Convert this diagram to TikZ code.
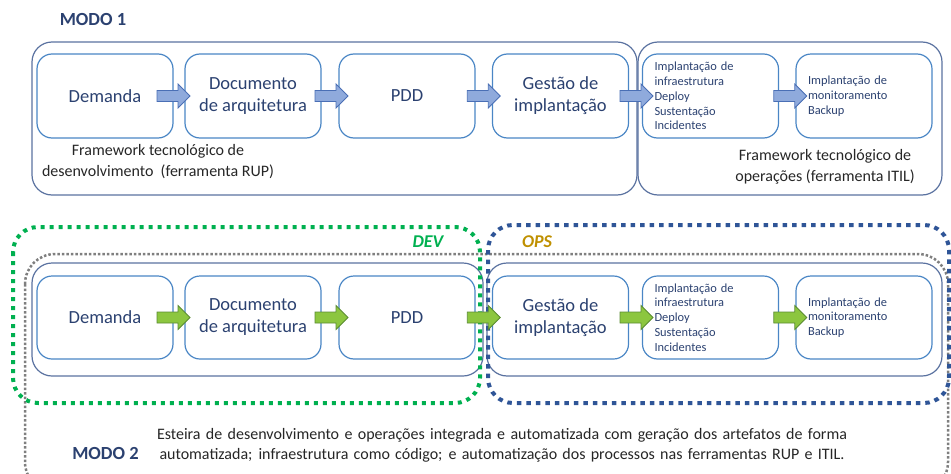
\documentclass[tikz,border=0pt]{standalone}
\usepackage{fontspec}
\setmainfont{Carlito}
\usetikzlibrary{calc}
\definecolor{navy}{HTML}{2B4170}
\definecolor{boxblue}{HTML}{4A86C5}
\definecolor{contblue}{HTML}{5A72A0}
\definecolor{arrblue}{HTML}{8FAADC}
\definecolor{arrblueline}{HTML}{4A6FB5}
\definecolor{arrgreen}{HTML}{8CC63F}
\definecolor{arrgreenline}{HTML}{5B8C32}
\definecolor{devgreen}{HTML}{00B050}
\definecolor{opsblue}{HTML}{2F5597}
\definecolor{dotgray}{HTML}{7F7F7F}
\definecolor{opsgold}{HTML}{BF9000}
\definecolor{bodytext}{HTML}{262626}
\newcommand\blockarrow[4][0]{%
  \path ($(#3.east)!0.5!(#4.west)$) coordinate (mid);
  \draw[#2] ([shift={(#1-16.5,-5.5)}]mid) -- ++(21,0) -- ++(0,-6.5) -- ++(12,12) -- ++(-12,12) -- ++(0,-6.5) -- ++(-21,0) -- cycle;}
\tikzset{
  box/.style={draw=boxblue, line width=1.2pt, rounded corners=15pt, minimum width=136pt, minimum height=84pt, inner sep=0pt, font=\fontsize{18.5}{22}\selectfont, text=navy, align=center},
  smallbox/.style={box, font=\fontsize{12.4}{14.8}\selectfont, align=left, text width=112pt},
  container/.style={draw=contblue, line width=1.2pt, rounded corners=20pt},
  bluearrow/.style={fill=arrblue, draw=arrblueline, line width=0.8pt, line join=miter},
  greenarrow/.style={fill=arrgreen, draw=arrgreenline, line width=0.8pt, line join=miter},
  devbox/.style={draw=devgreen, line width=4pt, dash pattern=on 4pt off 5pt, rounded corners=25pt},
  opsbox/.style={draw=opsblue, line width=4pt, dash pattern=on 4.5pt off 5pt, rounded corners=25pt},
  graybox/.style={draw=dotgray, line width=2.5pt, dash pattern=on 2.5pt off 2pt, rounded corners=30pt},
  modo/.style={font=\fontsize{18.5}{22}\selectfont\bfseries, text=navy, inner sep=0pt},
  note/.style={font=\fontsize{16}{21}\selectfont, text=bodytext, align=center, inner sep=0pt},
  tag/.style={font=\fontsize{18}{22}\selectfont\bfseries\itshape, inner sep=0pt}
}
\begin{document}
\begin{tikzpicture}[x=1pt,y=-1pt]
\useasboundingbox (0,0) rectangle (951,474);
\begin{scope}
\clip (0,0) rectangle (951,474);
% ---------- MODO 1 ----------
\node[modo] (modo1) at (93,19) {MODO 1};
\draw[container] (32,42) rectangle (637,195);
\draw[container] (638,42) rectangle (942,195);
\node[box] (dem1) at (105,96) {Demanda};
\node[box] (doc1) at (253,96) {Documento\\de arquitetura};
\node[box] (pdd1) at (407,96) {PDD};
\node[box] (ges1) at (560.5,96) {Gestão de\\implantação};
\node[smallbox] (inf1) at (710.5,96) {Implantação de\\infraestrutura\\Deploy\\Sustentação\\Incidentes};
\node[smallbox] (mon1) at (864,96) {Implantação de\\monitoramento\\Backup};
\blockarrow[-5.5]{bluearrow}{dem1}{doc1}
\blockarrow[1.5]{bluearrow}{doc1}{pdd1}
\blockarrow{bluearrow}{pdd1}{ges1}
\blockarrow[1]{bluearrow}{ges1}{inf1}
\blockarrow[3]{bluearrow}{inf1}{mon1}
\node[note] (fw1) at (158,161.5) {Framework tecnológico de\\desenvolvimento\ \ (ferramenta RUP)};
\node[note] (fw2) at (825,167) {Framework tecnológico de\\operações (ferramenta ITIL)};
% ---------- MODO 2 ----------
\draw[container] (32,263) rectangle (483,376);
\draw[container] (487,263) rectangle (942,376);
\node[box, minimum height=83pt] (dem2) at (105,317.5) {Demanda};
\node[box, minimum height=83pt] (doc2) at (253,317.5) {Documento\\de arquitetura};
\node[box, minimum height=83pt] (pdd2) at (407,317.5) {PDD};
\node[box, minimum height=83pt] (ges2) at (560.5,317.5) {Gestão de\\implantação};
\node[smallbox, minimum height=83pt] (inf2) at (710.5,317.5) {Implantação de\\infraestrutura\\Deploy\\Sustentação\\Incidentes};
\node[smallbox, minimum height=83pt] (mon2) at (864,317.5) {Implantação de\\monitoramento\\Backup};
\draw[graybox] (25,254) rectangle (948,492);
\draw[devbox] (13,227) rectangle (480,403);
\draw[opsbox] (488,225) rectangle (949,403);
\blockarrow[-5.5]{greenarrow}{dem2}{doc2}
\blockarrow[1.5]{greenarrow}{doc2}{pdd2}
\blockarrow{greenarrow}{pdd2}{ges2}
\blockarrow[1]{greenarrow}{ges2}{inf2}
\blockarrow[3]{greenarrow}{inf2}{mon2}
\node[tag, text=devgreen] (dev) at (428,242) {DEV};
\node[tag, text=opsgold] (ops) at (537,242) {OPS};
\node[note, font=\fontsize{16}{20}\selectfont] (esteira) at (502,445) {\makebox[690pt][s]{Esteira de desenvolvimento e operações integrada e automatizada com geração dos artefatos de forma}\\\makebox[685pt][s]{automatizada; infraestrutura como código; e automatização dos processos nas ferramentas RUP e ITIL.}};
\node[modo] (modo2) at (105.5,453) {MODO 2};
\end{scope}
\end{tikzpicture}
\end{document}
